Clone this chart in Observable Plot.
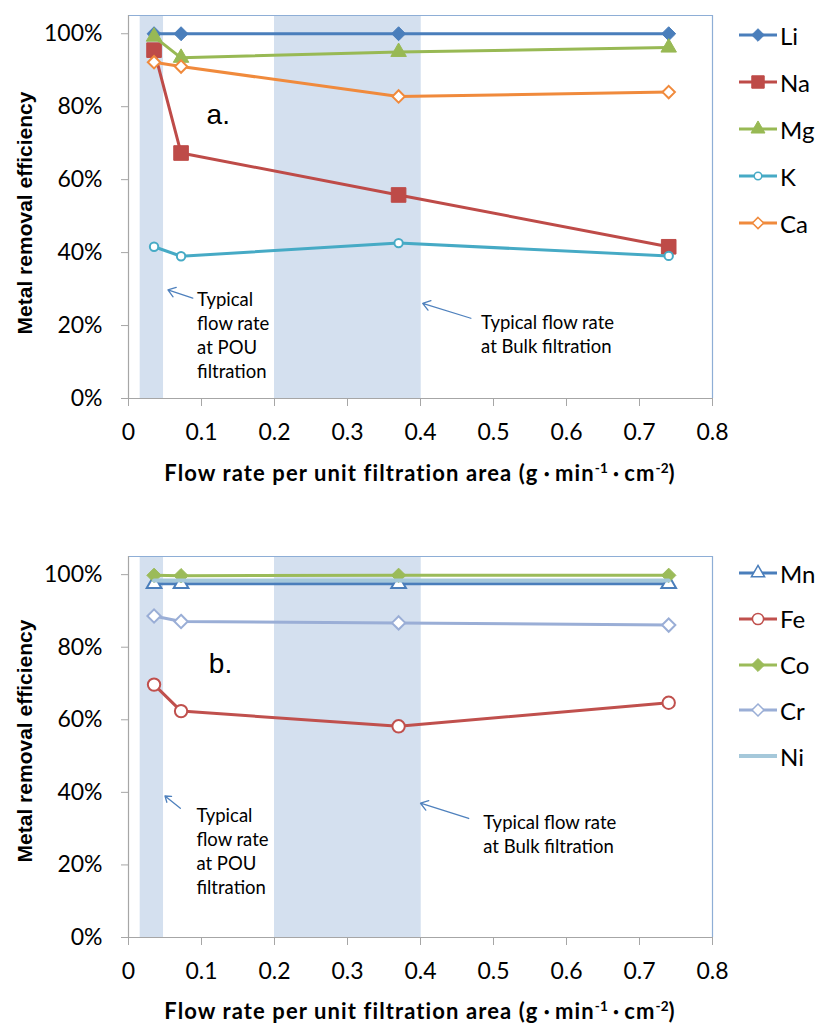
<!DOCTYPE html>
<html><head><meta charset="utf-8">
<script src="https://cdn.jsdelivr.net/npm/d3@7"></script>
<script src="https://cdn.jsdelivr.net/npm/@observablehq/plot@0.6"></script>
<style>
body{margin:0;background:#fff;font-family:Lato,sans-serif;}
.panel{position:relative;width:816px;}
.panel svg{display:block;overflow:visible;}
.xtitle{position:absolute;left:128px;width:584px;text-align:center;font-weight:bold;font-size:22px;letter-spacing:1.1px;line-height:26px;font-family:Lato,sans-serif;color:#000;white-space:nowrap;}
.xtitle sup{font-size:0.62em;line-height:0;vertical-align:0.6em;letter-spacing:0;}
.xtitle .dot{font-family:"Noto Sans CJK JP";font-size:0.75em;letter-spacing:0;}
.legend{position:absolute;left:739px;top:0;}
.item{position:absolute;left:0;display:flex;align-items:center;height:30px;white-space:nowrap;font-size:24px;}
.item svg{margin-right:3px;}
</style></head><body>
<div id="a" class="panel"></div>
<div id="b" class="panel"></div>
<script>
// ---- data ----
const flowRate = [0.035, 0.072, 0.37, 0.74];
const Li = [1.0, 1.0, 1.0, 1.0];
const Na = [0.955, 0.673, 0.558, 0.416];
const Mg = [0.992, 0.934, 0.950, 0.962];
const K  = [0.416, 0.390, 0.426, 0.391];
const Ca = [0.922, 0.910, 0.828, 0.840];
const Mn = [0.975, 0.975, 0.975, 0.975];
const Fe = [0.697, 0.624, 0.582, 0.647];
const Co = [0.998, 0.997, 0.998, 0.998];
const Cr = [0.886, 0.871, 0.867, 0.861];
const Ni = [0.984, 0.984, 0.984, 0.984];
const bands = [{x1: 0.016, x2: 0.048}, {x1: 0.2, x2: 0.401}];
const xTicks = [0, 0.1, 0.2, 0.3, 0.4, 0.5, 0.6, 0.7, 0.8];
const xTickLabels = ["0", "0.1", "0.2", "0.3", "0.4", "0.5", "0.6", "0.7", "0.8"];
const yTicks = [0, 0.2, 0.4, 0.6, 0.8, 1.0];
const yTickLabels = ["0%", "20%", "40%", "60%", "80%", "100%"];
const xDomain = [0, 0.8];
const yDomain = [0, 1.05];
const yTitle = "Metal removal efficiency";
const xTitleHTML = 'Flow rate per unit filtration area (g<span class="dot">・</span>min<sup>-1</sup><span class="dot">・</span>cm<sup>-2</sup>)';
const notesA = [
  {x: 0.094, y: 0.175, text: "Typical\nflow rate\nat POU\nfiltration"},
  {x: 0.483, y: 0.179, text: "Typical flow rate\nat Bulk filtration"}
];
const arrowsA = [
  {x1: 0.088, y1: 0.275, x2: 0.054, y2: 0.298},
  {x1: 0.469, y1: 0.220, x2: 0.403, y2: 0.261}
];
const notesB = [
  {x: 0.093, y: 0.240, text: "Typical\nflow rate\nat POU\nfiltration"},
  {x: 0.486, y: 0.288, text: "Typical flow rate\nat Bulk filtration"}
];
const arrowsB = [
  {x1: 0.071, y1: 0.356, x2: 0.050, y2: 0.390},
  {x1: 0.466, y1: 0.328, x2: 0.400, y2: 0.370}
];
const panelLabelA = [{x: 0.123, y: 0.778, text: "a."}];
const panelLabelB = [{x: 0.126, y: 0.754, text: "b."}];

// ---- styles ----
const seriesA = [
  {name: "Li", values: Li, color: "#4a7ebb", symbol: "diamond2", r: 6.3, fill: true},
  {name: "Na", values: Na, color: "#be4b48", symbol: "square2", r: 9.3, fill: true},
  {name: "Mg", values: Mg, color: "#98b954", symbol: "triangle2", r: 7.4, fill: true},
  {name: "K",  values: K,  color: "#46aac5", symbol: "circle", r: 4.2, fill: false},
  {name: "Ca", values: Ca, color: "#f08a3c", symbol: "diamond2", r: 5.6, fill: false}
];
const seriesB = [
  {name: "Mn", values: Mn, color: "#4a7ebb", symbol: "triangle2", r: 7.0, fill: false},
  {name: "Fe", values: Fe, color: "#c0504d", symbol: "circle", r: 6.2, fill: false},
  {name: "Co", values: Co, color: "#9bbb59", symbol: "diamond2", r: 6.5, fill: true},
  {name: "Cr", values: Cr, color: "#9aaed6", symbol: "diamond2", r: 6.0, fill: false},
  {name: "Ni", values: Ni, color: "#a5c8da", symbol: null, r: 0, fill: false, width: 4}
];

function rowsOf(s) { return s.values.map((v, i) => ({name: s.name, x: flowRate[i], y: v})); }

function panel(el, series, notes, arrows, label, height, marginBottom, legendTop, legendStep, xTitleTop, yTitleShift) {
  const marks = [
    Plot.rect(bands, {x1: "x1", x2: "x2", y1: () => yDomain[0], y2: () => yDomain[1], fill: "#d4e0ef"}),
    Plot.ruleY([yDomain[1]], {stroke: "#8eaed6", strokeWidth: 1.2}),
    Plot.ruleX([xDomain[1]], {stroke: "#8eaed6", strokeWidth: 1.2}),
    Plot.ruleX([xDomain[0]], {stroke: "#a6a6a6", strokeWidth: 1.2}),
    Plot.ruleY([yDomain[0]], {stroke: "#a6a6a6", strokeWidth: 1.2}),
    Plot.axisY({ticks: yTicks, tickFormat: (d) => yTickLabels[yTicks.indexOf(d)], tickSize: 7, tickPadding: 19, fontSize: 23, fontFamily: "Lato", stroke: "#a6a6a6", fill: "#000", label: null}),
    Plot.axisX({ticks: xTicks, tickFormat: (d) => xTickLabels[xTicks.indexOf(d)], tickSize: 8, tickPadding: 17, fontSize: 23, fontFamily: "Lato", stroke: "#a6a6a6", fill: "#000", label: null}),
    Plot.text([yTitle], {text: d => d, frameAnchor: "left", textAnchor: "middle", lineAnchor: "middle", rotate: -90, dx: -103, dy: yTitleShift, fontSize: 21, fontWeight: "bold", fontFamily: "Liberation Sans", fill: "#000"}),
    Plot.text(label, {x: "x", y: "y", text: "text", fontSize: 28, fontFamily: "Liberation Sans", fill: "#000"}),
    Plot.text(notes, {x: "x", y: "y", text: "text", textAnchor: "start", lineAnchor: "middle", lineHeight: 1.3, fontSize: 18.5, fontFamily: "Lato", fill: "#000"}),
    Plot.arrow(arrows, {x1: "x1", y1: "y1", x2: "x2", y2: "y2", stroke: "#4f81bd", strokeWidth: 1.3, headLength: 10, headAngle: 70})
  ];
  for (const s of series) {
    const rows = rowsOf(s);
    marks.push(Plot.line(rows, {x: "x", y: "y", stroke: s.color, strokeWidth: s.width || 3}));
    if (s.symbol) marks.push(Plot.dot(rows, {x: "x", y: "y", symbol: s.symbol, r: s.r, fill: s.fill ? s.color : "white", stroke: s.color, strokeWidth: s.fill ? 1 : 2}));
  }
  const chart = Plot.plot({
    width: 816, height, marginTop: 15, marginBottom, marginLeft: 128, marginRight: 104,
    x: {domain: xDomain}, y: {domain: yDomain},
    style: {fontFamily: "Lato", background: "white"},
    marks
  });
  el.appendChild(chart);
  const xt = document.createElement("div");
  xt.className = "xtitle"; xt.style.top = xTitleTop + "px"; xt.innerHTML = xTitleHTML;
  el.appendChild(xt);
  const lg = document.createElement("div"); lg.className = "legend";
  series.forEach((s, i) => {
    const it = document.createElement("div"); it.className = "item";
    it.style.top = (legendTop + i * legendStep - 15) + "px";
    const sw = d3.create("svg").attr("width", 38).attr("height", 30);
    sw.append("line").attr("x1", 0).attr("x2", 38).attr("y1", 15).attr("y2", 15).attr("stroke", s.color).attr("stroke-width", s.width || 3);
    if (s.symbol) {
      const sym = {diamond2: d3.symbolDiamond2, square2: d3.symbolSquare2, triangle2: d3.symbolTriangle2, circle: d3.symbolCircle}[s.symbol];
      const rr = s.symbol === "square2" ? s.r * 0.85 : s.r * 0.9;
      sw.append("path").attr("transform", "translate(19,15)").attr("d", d3.symbol(sym, Math.PI * rr * rr)())
        .attr("fill", s.fill ? s.color : "white").attr("stroke", s.color).attr("stroke-width", s.fill ? 1 : 1.5);
    }
    it.appendChild(sw.node());
    const t = document.createElement("span"); t.textContent = s.name; it.appendChild(t);
    lg.appendChild(it);
  });
  el.appendChild(lg);
}

panel(document.getElementById("a"), seriesA, notesA, arrowsA, panelLabelA, 541, 143, 35, 47, 460, 6);
panel(document.getElementById("b"), seriesB, notesB, arrowsB, panelLabelB, 483, 87, 32, 45.8, 457, -6);
</script>
</body></html>
